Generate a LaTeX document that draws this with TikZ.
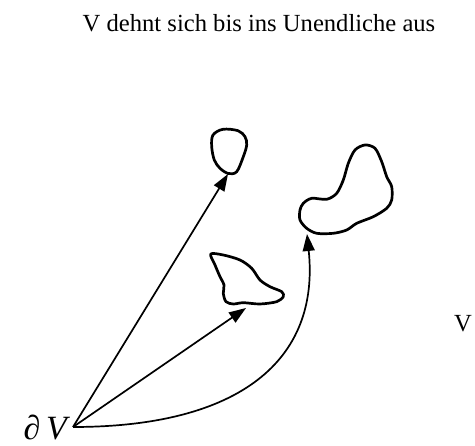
\documentclass[tikz,border=0pt]{standalone}
\usepackage{fontspec}
\setmainfont{Liberation Serif}
\usetikzlibrary{arrows.meta}
\begin{document}
\begin{tikzpicture}[x=1pt,y=-1pt,
  blob/.style={line width=2.7pt, line join=round},
  arr/.style={line width=1.7pt,-{Triangle[length=17pt,width=12pt]}},
  lbl/.style={font=\fontsize{24.6}{28}\selectfont, inner sep=0pt}]
\useasboundingbox (0,0) rectangle (475,446);
\node[lbl, anchor=base] (title) at (259,32) {V dehnt sich bis ins Unendliche aus};
\node[lbl, anchor=base] (vright) at (463,332) {V};
\node[lbl, font=\fontsize{34}{38}\selectfont\itshape, anchor=base east] (dv) at (67,440) {∂\,V};
\coordinate (O) at (73,427);
\coordinate (t1) at (228,174);
\coordinate (t2) at (246,308);
\coordinate (t3) at (307,234);
% top blob
\draw[blob] plot[smooth cycle, tension=0.55] coordinates {
 (213,135) (223,129.3) (238,130.7) (245,136.7) (246.7,145) (243.3,156.7)
 (236.7,171.7) (228.3,173.5) (220,168.3) (214.3,160) (211.7,146.7)};
% middle blob
\draw[blob] plot[smooth cycle, tension=0.5] coordinates {
 (210.7,254) (223.3,255) (240,260) (251.7,268.3) (260,280) (270,286.7)
 (281.7,291.7) (283.3,296.7) (276.7,301.7) (260,304) (243.3,302.7) (233.3,304)
 (226,301.7) (223.3,293.3) (224,285) (220,276.7) (215,265)};
% right blob
\draw[blob] plot[smooth cycle, tension=0.5] coordinates {
 (303.3,203.3) (311.7,198.3) (326.7,199.3) (336.7,193.3) (343.3,180) (348.3,163.3)
 (355,150) (365,145) (375,148.3) (381.7,161.7) (386.7,176.7) (391.7,186.7)
 (391.7,200) (386.7,208.3) (373.3,216.7) (356.7,223.3) (346.7,230) (333.3,233.3)
 (316.7,233.3) (306.7,228.3) (300,220) (300,210)};
\draw[arr] (O) -- (t1);
\draw[arr] (O) -- (t2);
\draw[arr] (O) .. controls (240,427) and (320,360) .. (t3);
\end{tikzpicture}
\end{document}
